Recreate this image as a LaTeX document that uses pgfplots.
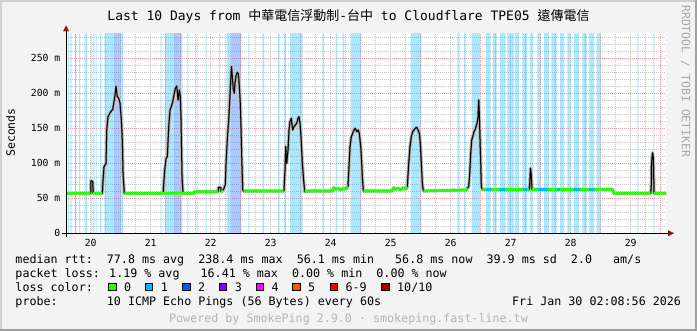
\documentclass[border=0pt]{standalone}
\usepackage{pgfplots}
\pgfplotsset{compat=1.18}
\usepackage{pgfplotstable}
\usepackage{fontspec}
\setmainfont{DejaVu Sans Mono}
\newfontfamily\cjk{Noto Sans CJK TC}
\newfontfamily\dvsans{DejaVu Sans}
\definecolor{bg}{HTML}{F3F3F3}
\definecolor{borderlight}{HTML}{D0D0D0}
\definecolor{borderdark}{HTML}{A0A0A0}
\definecolor{gridgrey}{HTML}{C4C4C4}
\definecolor{gridred}{HTML}{EC9C9C}
\definecolor{loss0}{HTML}{26FF00}
\definecolor{loss1}{HTML}{00B8FF}
\definecolor{loss2}{HTML}{0059FF}
\definecolor{loss3}{HTML}{7E00FF}
\definecolor{loss4}{HTML}{FF00FF}
\definecolor{loss5}{HTML}{FF5500}
\definecolor{loss6}{HTML}{FF0000}
\definecolor{loss10}{HTML}{A10000}
\definecolor{arrowred}{HTML}{8B1A1A}
\definecolor{smokedark}{HTML}{8C8C8C}
\definecolor{smokelight}{HTML}{C8C8C8}
\definecolor{powered}{HTML}{B4B4B4}
\definecolor{watermark}{HTML}{A8A8A8}
\newcommand\legfont{\fontsize{11.68}{12}\selectfont}
\newcommand\titlefont{\fontsize{13}{14}\selectfont}
\newcommand\tickfont{\fontsize{9.8}{10}\selectfont}

% median rtt (hours since Jan 20 00:00, ms)
\pgfplotstableread{
h ms
2.15 57
12.0 57
12.1 75
12.8 74
13.0 57
16.64 57
16.92 76
17.32 95
18.12 100
18.4 147.6
18.92 166.6
20.0 173.7
20.8 177
21.32 188
21.72 197.6
22.12 210
22.64 195
23.2 193
23.72 185.7
24.24 161.9
24.64 133
24.92 85.7
25.44 57
41.0 57
41.04 61.9
41.6 90.4
42.12 107
42.64 109.4
43.2 152.3
43.72 176
44.24 181
44.8 188
45.32 197.6
45.84 207
46.4 210.4
46.92 190.4
47.44 204.7
47.84 195
48.12 162
48.52 81
48.92 57
53.3 57
53.4 59.4
63.0 59.4
63.04 65.7
64.0 65.7
64.1 60
64.52 60
65.32 64
65.84 70
66.12 100
66.4 119
66.8 143
67.2 162
67.6 190
68.0 219
68.32 238
68.64 224
69.04 205
69.44 200
69.72 215
70.12 225
70.64 230
71.04 228
71.44 210
71.84 185
72.12 150
72.4 109
72.8 62
73.04 60.4
89.2 60.4
89.32 62
89.72 90.4
90.0 123.7
90.4 100
90.92 119
91.32 147.6
91.72 159.5
92.24 164.3
92.8 147.6
93.32 152.3
93.84 154.7
94.4 157.1
94.92 164.3
95.32 166.6
95.72 157.1
96.12 138
96.64 100
97.04 80.9
97.6 59.4
98.52 60.4
108.6 60.4
109.2 65
110.0 63
111.0 64
112.0 62
113.0 64
114.0 63
114.9 66.6
115.44 104.7
115.72 123.7
116.24 138
116.8 142.9
117.32 147.6
117.84 150
118.4 145.2
118.92 147.6
119.44 142.9
120.0 123.7
120.24 109.5
120.64 80.9
121.04 60.4
132.6 60.4
133.2 65
134.0 63
135.0 64
136.0 62
137.0 65
138.0 63
138.64 66.6
139.2 100
139.72 123.7
140.24 138
140.8 145.2
141.32 147.6
141.84 150
142.4 151.4
142.92 147.6
143.44 142.9
143.84 128.6
144.24 100
144.64 71.4
145.04 60.4
162.2 61.9
162.64 64.3
163.2 66.6
163.6 85.7
164.0 114.3
164.4 133.3
164.8 138
165.32 145.2
165.72 147.6
166.12 152.3
166.52 157.1
166.92 166.6
167.2 190.4
167.44 171.4
167.72 133.3
168.0 100
168.24 66.6
168.64 62.8
187.4 62.5
187.6 70
187.9 93
188.2 85
188.5 62.5
220.6 62.8
221.3 57.1
236.0 57.1
236.2 66
236.32 100
236.72 115
237.04 108
237.32 57.1
242.15 57.1
}\median

\begin{document}
\begin{tikzpicture}[x=1pt,y=1pt]
\fill[bg] (-66.1,-97.7) rectangle (630.9,233.3);
\fill[borderlight] (-66.1,231.3) rectangle (630.9,233.3);
\fill[borderlight] (-66.1,-97.7) rectangle (-64.1,233.3);
\fill[borderdark] (-66.1,-97.7) rectangle (630.9,-95.7);
\fill[borderdark] (628.9,-97.7) rectangle (630.9,233.3);
\fill[white] (0,0) rectangle (600,200);
\begin{axis}[
  at={(0,0)}, anchor=south west,
  scale only axis, width=600pt, height=200pt,
  xmin=2.15, xmax=242.15, ymin=0, ymax=285.7,
  axis line style={draw=none},
  tick style={draw=none},
  major tick length=0pt, minor tick length=0pt,
  xtick={24,48,...,240}, xticklabels={},
  minor xtick={6,12,...,240},
  extra x ticks={12,36,60,84,108,132,156,180,204,228},
  extra x tick labels={20,21,22,23,24,25,26,27,28,29},
  extra x tick style={grid=none},
  ytick={0,50,...,250},
  yticklabels={0,50 m,100 m,150 m,200 m,250 m},
  minor ytick={10,20,...,280},
  xmajorgrids, ymajorgrids, xminorgrids, yminorgrids,
  major grid style={draw=gridred, dash pattern=on 1pt off 1pt, line width=0.8pt},
  minor grid style={draw=gridgrey, dash pattern=on 1pt off 1pt, line width=0.8pt},
  /pgf/number format/assume math mode=true,
  x tick label style={font=\tickfont, inner sep=0pt, anchor=north, yshift=-5.5pt},
  y tick label style={font=\tickfont, inner sep=0pt, anchor=east, xshift=-5.5pt},
  line join=round,
]
% loss background: 1/10
\addplot[draw=none, fill=loss1, fill opacity=0.33, const plot] coordinates {
(2.92,290) (3.32,0) (4.0,290) (4.4,0) (5.72,290) (6.24,0) (7.32,290) (7.72,0)
(9.6,290) (10.64,0) (12.24,290) (12.64,0) (13.04,290) (13.44,0) (14.0,290) (14.4,0)
(15.72,290) (16.24,0) (17.6,290) (21.32,0) (23.72,290) (25.04,0)
(40.0,290) (40.4,0) (41.8,290) (45.32,0) (48.0,290) (48.64,0)
(50.64,290) (51.04,0) (54.4,290) (54.8,0) (58.0,290) (58.4,0) (63.32,290) (63.72,0)
(66.4,290) (68.0,0) (72.0,290) (72.24,0) (75.04,290) (75.44,0) (80.64,290) (81.32,0)
(86.92,290) (87.6,0) (89.32,290) (90.0,0) (91.72,290) (96.8,0)
(104.64,290) (105.32,0) (110.0,290) (110.64,0) (112.8,290) (113.32,0) (116.0,290) (120.24,0)
(140.0,290) (144.24,0) (158.64,290) (159.6,0) (161.32,290) (161.72,0) (164.4,290) (167.72,0)
(170.0,290) (172.0,0) (172.92,290) (174.4,0) (175.72,290) (178.0,0) (178.64,290) (181.32,0)
(181.72,290) (183.32,0) (184.64,290) (186.64,0) (187.72,290) (188.92,0) (190.64,290) (192.0,0)
(193.32,290) (195.32,0) (196.24,290) (198.4,0) (199.72,290) (201.32,0) (202.64,290) (204.0,0)
(205.32,290) (207.32,0) (208.64,290) (210.4,0) (211.32,290) (213.32,0) (214.4,290) (216.0,0)
(230.64,290) (231.04,0) (237.04,290) (237.44,0)
} \closedcycle;
% loss background: 2/10
\addplot[draw=none, fill=loss2, fill opacity=0.33, const plot] coordinates {
(21.32,290) (23.72,0) (45.32,290) (48.0,0) (68.0,290) (72.0,0)
} \closedcycle;
% smoke
\addplot[smokelight, line width=3.6pt] table[x=h, y=ms] {\median};
\addplot[smokedark, line width=2pt] table[x=h, y=ms] {\median};
\addplot[black, line width=1pt] table[x=h, y=ms] {\median};
% median, loss 0
\addplot[loss0, line width=2.7pt, unbounded coords=jump] coordinates {
(2.15,57) (12.0,57) (12.5,nan) (13.0,57) (16.64,57) (17,nan)
(25.44,57) (53.3,57) (53.4,59.4) (63.0,59.4) (63.5,nan) (64.1,60) (65.0,60) (65.5,nan)
(73.04,60.4) (89.2,60.4) (89.5,nan) (97.6,59.4) (98.52,60.4) (108.6,60.4)
(109.2,65) (110.0,63) (111.0,64) (112.0,62) (113.0,64) (114.0,63) (114.9,66.6) (115.2,nan)
(121.04,60.4) (132.6,60.4) (133.2,65) (134.0,63) (135.0,64) (136.0,62) (137.0,65)
(138.0,63) (138.64,66.6) (139,nan) (145.04,60.4) (162.2,61.9) (162.64,64.3) (163,nan)
(168.64,62.8) (187.4,62.5) (187.6,nan) (188.5,62.5) (220.6,62.8) (221.3,57.1)
(236.0,57.1) (236.1,nan) (237.32,57.1) (242.15,57.1)
};
% median, loss 1
\addplot[loss1, line width=2.7pt, unbounded coords=jump] coordinates {
(170.0,62.8) (172.0,62.8) (172.5,nan) (175.7,62.8) (177.7,62.8) (178,nan)
(184.9,62.6) (186.5,62.6) (187,nan) (190.9,62.6) (194.9,62.6) (195.5,nan)
(198.5,62.7) (199.7,62.7) (200,nan) (205.3,62.7) (207.7,62.7) (208,nan)
(211.3,62.8) (213.3,62.8)
};
\end{axis}
% axes with arrows
\draw[black, line width=1pt] (-4,0) -- (604,0);
\draw[black, line width=1pt] (0,-4) -- (0,204);
\fill[arrowred] (602,-3) -- (608,0) -- (602,3) -- cycle;
\fill[arrowred] (-3,202) -- (0,208) -- (3,202) -- cycle;
% title and labels
\node[anchor=base, inner sep=0pt, font=\titlefont] at (282.4,212.8)
  {Last 10 Days from {\cjk 中華電信浮動制}-{\cjk 台中} to Cloudflare TPE05 {\cjk 遠傳電信}};
\node[rotate=90, inner sep=0pt, font=\fontsize{11.5}{12}\selectfont] at (-55.4,100.8) {Seconds};
\node[rotate=-90, anchor=west, inner sep=0pt, text=watermark, font=\fontsize{11.5}{12}\selectfont] at (619.4,228.3) {RRDTOOL / TOBI OETIKER};
% legend
\node[anchor=base west, inner sep=0pt, font=\legfont] at (-50.8,-30.2)
  {median rtt:~~77.8 ms avg~~238.4 ms max~~56.1 ms min~~~56.8 ms now~~39.9 ms sd~~2.0~~~am/s};
\node[anchor=base west, inner sep=0pt, font=\legfont] at (-50.8,-44.2)
  {packet loss: 1.19 \% avg~~~16.41 \% max~~0.00 \% min~~0.00 \% now};
\node[anchor=base west, inner sep=0pt, font=\legfont] at (-50.8,-58.2) {loss color:};
\foreach \bx/\col/\lab in {42.6/loss0/0, 79.2/loss1/1, 116.6/loss2/2, 153.2/loss3/3, 189.9/loss4/4, 226.6/loss5/5, 263.9/loss6/6-9, 315.6/loss10/10\slash 10} {
  \filldraw[fill=\col, draw=black, line width=0.9pt] (\bx,-57.5) rectangle ++(7.6,7.6);
  \node[anchor=base west, inner sep=0pt, font=\legfont] at (\bx+15.3,-58.2) {\lab};
}
\node[anchor=base west, inner sep=0pt, font=\legfont] at (-50.8,-72.2)
  {probe:~~~~~~~10 ICMP Echo Pings (56 Bytes) every 60s};
\node[anchor=base west, inner sep=0pt, font=\legfont] at (445.9,-72.2) {Fri Jan 30 02:08:56 2026};
\node[anchor=base, inner sep=0pt, font=\legfont, text=powered] at (282.4,-89.2)
  {Powered by SmokePing 2.9.0 · smokeping.fast-line.tw};
\pgfresetboundingbox
\useasboundingbox (-66.1,-97.7) rectangle (630.9,233.3);
\end{tikzpicture}
\end{document}
